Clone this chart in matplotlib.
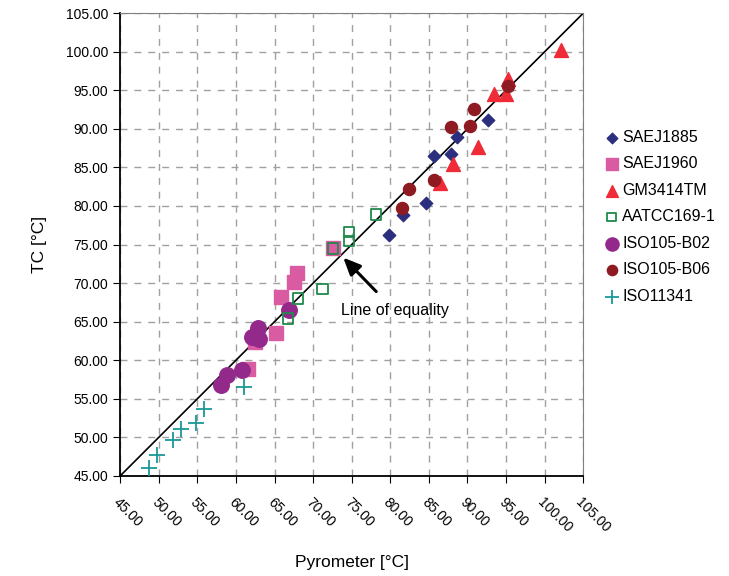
import matplotlib
matplotlib.use("Agg")
import matplotlib.pyplot as plt
import numpy as np

plt.rcParams['font.family'] = ['Liberation Sans Narrow', 'Liberation Sans', 'DejaVu Sans']

# valeurs (Pyrometer, TC)
saej1885_x = [79.85, 81.6, 84.6, 85.6, 87.9, 88.7, 92.7]
saej1885_y = [76.2, 78.8, 80.4, 86.5, 86.7, 88.9, 91.2]

saej1960_x = [72.6, 67.95, 67.5, 65.8, 65.2, 62.4, 61.6]
saej1960_y = [74.5, 71.3, 70.2, 68.2, 63.5, 62.4, 58.8]

gm3414_x = [102.1, 95.2, 93.5, 95.0, 91.3, 88.1, 86.4]
gm3414_y = [100.2, 96.5, 94.5, 94.5, 87.6, 85.5, 83.0]

aatcc_x = [72.6, 74.6, 74.6, 78.1, 71.2, 68.0, 66.7]
aatcc_y = [74.5, 76.6, 75.5, 78.9, 69.2, 68.0, 65.4]

b02_x = [66.9, 62.9, 62.1, 63.0, 58.8, 58.0, 60.8]
b02_y = [66.5, 64.2, 63.0, 62.7, 58.1, 56.8, 58.7]

b06_x = [95.2, 90.9, 87.9, 90.3, 85.6, 82.4, 81.5]
b06_y = [95.5, 92.6, 90.2, 90.4, 83.4, 82.2, 79.8]

iso11341_x = [48.7, 49.7, 51.8, 52.9, 54.8, 55.8, 61.0]
iso11341_y = [46.0, 47.75, 49.6, 51.1, 51.9, 53.7, 56.5]

ticks = np.arange(45, 106, 5)

fig = plt.figure(figsize=(7.29, 5.76), dpi=100)
ax = fig.add_axes([0.165, 0.174, 0.635, 0.803])

ax.plot([45, 105], [45, 105], color='black', linewidth=1.2, zorder=2)

ax.scatter(saej1885_x, saej1885_y, marker='D', s=40, color='#2B2F7E', label='SAEJ1885', zorder=3)
ax.scatter(saej1960_x, saej1960_y, marker='s', s=105, color='#D95CA3', label='SAEJ1960', zorder=3)
ax.scatter(gm3414_x, gm3414_y, marker='^', s=100, color='#EE2B36', label='GM3414TM', zorder=3)
ax.scatter(aatcc_x, aatcc_y, marker='s', s=55, facecolor='none', edgecolor='#1E8A4A', linewidth=1.3,
           label='AATCC169-1', zorder=4)
ax.scatter(b02_x, b02_y, marker='o', s=125, color='#932A8B', label='ISO105-B02', zorder=3)
ax.scatter(b06_x, b06_y, marker='o', s=75, color='#8F1B22', label='ISO105-B06', zorder=3)
ax.scatter(iso11341_x, iso11341_y, marker='+', s=130, color='#1A9898', linewidth=1.3, label='ISO11341', zorder=3)

ax.annotate('Line of equality', xy=(73.9, 73.3), xytext=(80.6, 66.4), ha='center', va='center', fontsize=11.5,
            arrowprops=dict(arrowstyle='-|>,head_width=0.4,head_length=0.9', color='black', lw=2.2,
                            shrinkB=0, shrinkA=9))

ax.set_xlim(45, 105)
ax.set_ylim(45, 105)
ax.set_xticks(ticks)
ax.set_yticks(ticks)
ax.set_xticklabels(['%.2f' % t for t in ticks], rotation=-45, ha='left', va='top', rotation_mode='anchor',
                   fontsize=10)
ax.set_yticklabels(['%.2f' % t for t in ticks], fontsize=10)
ax.tick_params(axis='both', direction='out', length=5, color='black')
ax.tick_params(axis='x', pad=9)
ax.grid(True, linestyle=(0, (5, 5)), color='#A0A0A0', linewidth=1)
ax.set_axisbelow(True)
for s in ['top', 'right']:
    ax.spines[s].set_color('#808080')
ax.spines['left'].set_linewidth(1.3)
ax.spines['bottom'].set_linewidth(1.3)

ax.set_xlabel('Pyrometer [°C]', fontsize=12.5, labelpad=14)
ax.set_ylabel('TC [°C]', fontsize=12.5, labelpad=14)

ax.legend(loc='center left', bbox_to_anchor=(1.01, 0.56), frameon=False, fontsize=11.5,
          handletextpad=0.05, labelspacing=0.72, handlelength=1.2, markerscale=0.85, scatterpoints=1)

fig.savefig('out.png', dpi=100)
